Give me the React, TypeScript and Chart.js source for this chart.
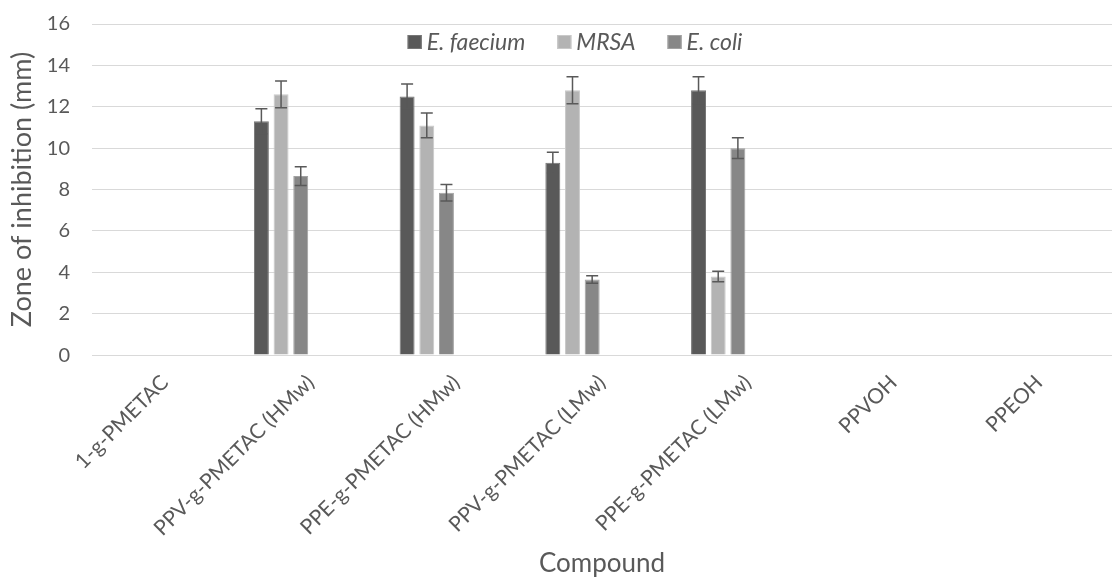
import React, { useEffect, useRef } from "react";
import { Chart, registerables } from "chart.js";

Chart.register(...registerables);

const categories = [
  "1-g-PMETAC",
  "PPV-g-PMETAC (HMw)",
  "PPE-g-PMETAC (HMw)",
  "PPV-g-PMETAC (LMw)",
  "PPE-g-PMETAC (LMw)",
  "PPVOH",
  "PPEOH",
];
const seriesNames = ["E. faecium", "MRSA", "E. coli"];
const faecium = [0, 11.3, 12.5, 9.3, 12.8, 0, 0];
const mrsa = [0, 12.6, 11.1, 12.8, 3.8, 0, 0];
const ecoli = [0, 8.65, 7.85, 3.65, 10.0, 0, 0];
const faeciumErr = [0, 0.6, 0.6, 0.5, 0.65, 0, 0];
const mrsaErr = [0, 0.65, 0.6, 0.65, 0.25, 0, 0];
const ecoliErr = [0, 0.45, 0.4, 0.18, 0.5, 0, 0];
const emptySeries = [null, null, null, null, null, null, null];
const yTicks = [0, 2, 4, 6, 8, 10, 12, 14, 16];
const seriesColors = ["#595959", "#b3b3b3", "#878787"];
const seriesBorders = ["#767676", "#c9c9c9", "#a2a2a2"];

const FONT = "Lato, 'Open Sans', sans-serif";
const TEXT = "#595959";

const errorsByDataset = [faeciumErr, mrsaErr, ecoliErr];

const errorBarPlugin = {
  id: "errorBars",
  afterDatasetsDraw(chart: any) {
    const ctx = chart.ctx;
    const yScale = chart.scales.y;
    ctx.save();
    ctx.strokeStyle = "#595959";
    ctx.lineWidth = 1.5;
    errorsByDataset.forEach((errs, di) => {
      const meta = chart.getDatasetMeta(di);
      const vals = chart.data.datasets[di].data;
      meta.data.forEach((bar: any, i: number) => {
        const e = errs[i];
        const v = vals[i];
        if (!e || v == null) return;
        const yt = yScale.getPixelForValue(v + e);
        const yb = yScale.getPixelForValue(v - e);
        const x = bar.x;
        const cap = 6;
        ctx.beginPath();
        ctx.moveTo(x, yt);
        ctx.lineTo(x, yb);
        ctx.moveTo(x - cap, yt);
        ctx.lineTo(x + cap, yt);
        ctx.moveTo(x - cap, yb);
        ctx.lineTo(x + cap, yb);
        ctx.stroke();
      });
    });
    ctx.restore();
  },
};

// Legend drawn inside the top of the plot area (as in the original)
const innerLegendPlugin = {
  id: "innerLegend",
  afterDraw(chart: any) {
    const ctx = chart.ctx;
    const area = chart.chartArea;
    const box = 14;
    const gapText = 5;
    const gapItem = 32;
    ctx.save();
    ctx.font = `italic 23px ${FONT}`;
    ctx.textBaseline = "middle";
    const widths = seriesNames.map((n) => ctx.measureText(n).width);
    const total =
      widths.reduce((a, w) => a + box + gapText + w, 0) + gapItem * (seriesNames.length - 1);
    let x = (area.left + area.right) / 2 - 27 - total / 2;
    const cy = area.top + 18;
    seriesNames.forEach((n, i) => {
      ctx.fillStyle = seriesColors[i];
      ctx.fillRect(x, cy - box / 2, box, box);
      ctx.strokeStyle = seriesBorders[i];
      ctx.lineWidth = 1;
      ctx.strokeRect(x + 0.5, cy - box / 2 + 0.5, box - 1, box - 1);
      x += box + gapText;
      ctx.fillStyle = TEXT;
      ctx.fillText(n, x, cy + 1);
      x += widths[i] + gapItem;
    });
    ctx.restore();
  },
};

export default function App() {
  const ref = useRef<HTMLCanvasElement>(null);
  useEffect(() => {
    if (!ref.current) return;
    const chart = new Chart(ref.current, {
      type: "bar",
      data: {
        labels: categories,
        datasets: [
          { label: seriesNames[0], data: faecium, backgroundColor: seriesColors[0], borderColor: seriesBorders[0], borderWidth: 1 },
          { label: seriesNames[1], data: mrsa, backgroundColor: seriesColors[1], borderColor: seriesBorders[1], borderWidth: 1 },
          { label: seriesNames[2], data: ecoli, backgroundColor: seriesColors[2], borderColor: seriesBorders[2], borderWidth: 1 },
          { label: "", data: emptySeries as any },
          { label: "", data: emptySeries as any },
          { label: "", data: emptySeries as any },
        ],
      },
      options: {
        responsive: false,
        animation: false,
        datasets: { bar: { categoryPercentage: 0.81, barPercentage: 0.76 } },
        layout: { padding: { left: 0, right: 0, top: 24, bottom: 4 } },
        plugins: {
          tooltip: { enabled: false },
          legend: { display: false },
        },
        scales: {
          x: {
            grid: { display: false },
            border: { display: false },
            ticks: {
              color: TEXT,
              font: { family: FONT, size: 21 },
              minRotation: 45,
              maxRotation: 45,
              padding: 7,
            },
            title: {
              display: true,
              text: "Compound",
              color: TEXT,
              font: { family: FONT, size: 26 },
              padding: { top: 0, bottom: 0 },
            },
          },
          y: {
            min: 0,
            max: 16,
            afterBuildTicks: (axis: any) => {
              axis.ticks = yTicks.map((v) => ({ value: v }));
            },
            afterFit: (scale: any) => {
              scale.width = 92;
              scale.paddingTop = 0;
            },
            grid: { color: "#d9d9d9", drawTicks: false, lineWidth: 1 },
            border: { display: false },
            ticks: {
              color: TEXT,
              font: { family: FONT, size: 20 },
              padding: 22,
            },
            title: {
              display: true,
              text: "Zone of inhibition (mm)",
              color: TEXT,
              font: { family: FONT, size: 27 },
              padding: { top: 6, bottom: 0 },
            },
          },
        },
      },
      plugins: [errorBarPlugin, innerLegendPlugin],
    });
    return () => chart.destroy();
  }, []);
  return (
    <div style={{ position: "absolute", left: 0, top: 0, width: 1112, height: 583, background: "#fff" }}>
      <canvas ref={ref} width={1112} height={583} />
    </div>
  );
}
